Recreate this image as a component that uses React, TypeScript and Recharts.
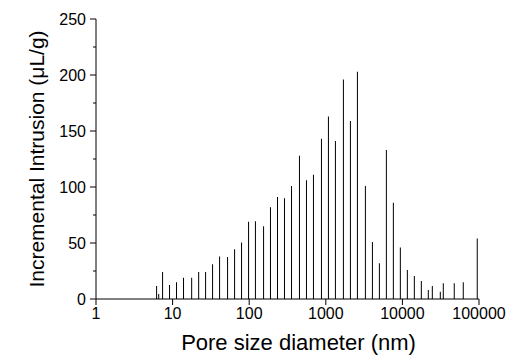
import { ComposedChart, Bar, XAxis, YAxis, Label } from "recharts";

// pore diameters (nm) and incremental intrusion (µL/g)
const diameters = [
  6.1, 6.5, 7.3, 9.0, 11.1, 13.7, 17.5, 21.6, 26.6, 32.8, 40.5, 51.5, 63.6, 78.4,
  96.8, 119, 152, 187, 231, 285, 352, 447, 552, 681, 866, 1068, 1318, 1675, 2068,
  2552, 3245, 4007, 4941, 6096, 7520, 9277, 11450, 14125, 17430, 21500, 24260,
  30830, 33730, 46900, 61500, 93600,
];
const intrusion = [
  11.5, 4.5, 24, 12.5, 15, 19, 19, 24, 24, 31, 38, 37.5, 44.5, 50.5, 69, 69.5, 65,
  82, 91, 90, 101, 128, 106, 111, 143, 163, 141, 196, 159, 203, 101, 51, 32, 133,
  86, 46, 26, 20.5, 16, 8, 11.5, 6.5, 14, 14, 15, 54,
];
const xTicks = [1, 10, 100, 1000, 10000, 100000];
const yTicks = [0, 25, 50, 75, 100, 125, 150, 175, 200, 225, 250];

const data = diameters.map((d, i) => ({ d, v: intrusion[i] }));

const FONT = "Arial, 'Liberation Sans', sans-serif";

// major ticks every 50 with labels, minor ticks in between
function YTick(props: any) {
  const { x, y, payload } = props;
  const major = payload.value % 50 === 0;
  const ax = x + 10; // tickSize 6 + tickMargin 4
  return (
    <g>
      <line x1={ax} x2={ax - (major ? 6 : 3)} y1={y} y2={y} stroke="#000" />
      {major && (
        <text x={x} y={y} dy="0.36em" textAnchor="end" fontSize={16} fontFamily={FONT} fill="#000">
          {payload.value}
        </text>
      )}
    </g>
  );
}

export default function App() {
  return (
    <div style={{ position: "absolute", left: 0, top: 0, background: "#fff" }}>
      <ComposedChart
        width={513}
        height={360}
        data={data}
        margin={{ top: 19, right: 34, left: 0, bottom: 0 }}
      >
        <XAxis
          dataKey="d"
          type="number"
          scale="log"
          domain={[1, 100000]}
          ticks={xTicks}
          allowDataOverflow
          height={61}
          tickSize={6}
          tickMargin={3}
          stroke="#000"
          tick={{ fontSize: 16, fontFamily: FONT, fill: "#000" }}
        >
          <Label
            content={({ viewBox }: any) => (
              <text
                x={viewBox.x + viewBox.width / 2 + 11}
                y={viewBox.y + 51}
                textAnchor="middle"
                fontSize={22}
                fontFamily={FONT}
                fill="#000"
              >
                Pore size diameter (nm)
              </text>
            )}
          />
        </XAxis>
        <YAxis
          type="number"
          domain={[0, 250]}
          ticks={yTicks}
          interval={0}
          width={96}
          tickSize={6}
          tickMargin={4}
          tickLine={false}
          stroke="#000"
          tick={<YTick />}
        >
          <Label
            content={({ viewBox }: any) => (
              <text
                x={44}
                y={viewBox.y + viewBox.height / 2}
                transform={`rotate(-90 44 ${viewBox.y + viewBox.height / 2})`}
                textAnchor="middle"
                fontSize={21}
                fontFamily={FONT}
                fill="#000"
              >
                Incremental Intrusion (μL/g)
              </text>
            )}
          />
        </YAxis>
        <Bar dataKey="v" fill="#000" barSize={1} isAnimationActive={false} />
      </ComposedChart>
    </div>
  );
}
